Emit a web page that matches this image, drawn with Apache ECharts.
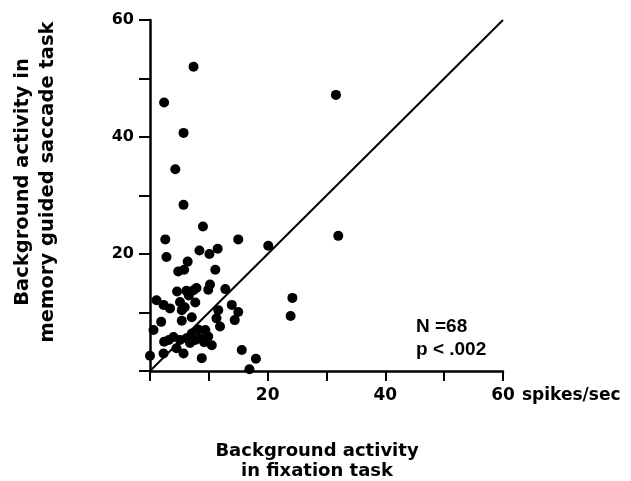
<!DOCTYPE html>
<html>
<head>
<meta charset="utf-8">
<script src="https://cdn.jsdelivr.net/npm/echarts@6/dist/echarts.min.js"></script>
<style>
html,body{margin:0;padding:0;background:#fff;}
#chart{width:631px;height:481px;}
</style>
</head>
<body>
<div id="chart"></div>
<script>
// Background activity (spikes/sec) in fixation task (x) vs memory guided saccade task (y)
const fixationRates = [
  7.4, 2.4, 5.7, 4.3, 5.7, 9.0, 31.6, 32.0, 20.1, 24.2,
  23.9, 2.6, 15.0, 2.8, 8.4, 10.1, 11.5, 6.4, 4.8, 5.8,
  11.1, 10.2, 9.9, 12.8, 4.6, 6.2, 7.4, 5.1, 5.4, 7.7,
  1.1, 2.3, 3.4, 13.9, 15.0, 14.4, 1.9, 5.4, 7.1, 11.3,
  11.9, 0.6, 2.4, 4.0, 5.1, 6.2, 7.1, 7.7, 8.5, 9.4,
  9.9, 10.5, 0.0, 2.3, 5.7, 8.8, 15.6, 18.0, 16.9, 6.6,
  5.9, 8.2, 6.8, 3.2, 9.2, 7.9, 11.6, 4.5
];
const saccadeRates = [
  52.0, 45.9, 40.7, 34.5, 28.4, 24.7, 47.2, 23.1, 21.4, 12.5,
  9.4, 22.5, 22.5, 19.5, 20.6, 20.0, 20.9, 18.7, 17.0, 17.3,
  17.3, 14.8, 13.9, 14.0, 13.6, 13.7, 13.8, 11.8, 10.4, 11.7,
  12.1, 11.3, 10.7, 11.3, 10.1, 8.7, 8.4, 8.6, 9.2, 9.0,
  7.6, 7.0, 5.0, 5.8, 5.3, 5.6, 6.4, 5.3, 5.6, 7.0,
  5.9, 4.4, 2.6, 3.0, 3.0, 2.2, 3.6, 2.1, 0.3, 12.9,
  10.9, 7.1, 4.8, 5.3, 4.9, 14.2, 10.4, 3.9
];
const identityLine = [[0, 0], [60, 60]];
const tickLabels = ['20', '40', '60'];
const unitLabel = 'spikes/sec';
const statsText = ['N =68', 'p < .002'];

const points = fixationRates.map((x, i) => [x, saccadeRates[i]]);
const axisFont = 'DejaVu Sans';

const chart = echarts.init(document.getElementById('chart'), null, {renderer: 'canvas'});
chart.setOption({
  backgroundColor: '#ffffff',
  animation: false,
  grid: {left: 150, top: 20, width: 353, height: 351, containLabel: false},
  xAxis: {
    type: 'value', min: 0, max: 60, interval: 10,
    splitLine: {show: false},
    axisLine: {show: true, onZero: false, lineStyle: {color: '#000', width: 2.5}},
    axisTick: {show: true, length: 10, lineStyle: {color: '#000', width: 2}},
    axisLabel: {
      margin: 16, color: '#000', fontFamily: axisFont, fontWeight: 'bold', fontSize: 17,
      formatter: v => tickLabels.includes(String(v)) ? String(v) : ''
    }
  },
  yAxis: {
    type: 'value', min: 0, max: 60, interval: 10,
    splitLine: {show: false},
    axisLine: {show: true, onZero: false, lineStyle: {color: '#000', width: 2.5}},
    axisTick: {show: true, length: 11, lineStyle: {color: '#000', width: 2}},
    axisLabel: {
      margin: 16, color: '#000', fontFamily: axisFont, fontWeight: 'bold', fontSize: 16,
      formatter: v => tickLabels.includes(String(v)) ? String(v) : ''
    }
  },
  series: [
    {
      type: 'line', data: identityLine, showSymbol: false, symbol: 'none',
      lineStyle: {color: '#000', width: 2}, silent: true, z: 2
    },
    {
      type: 'scatter', data: points, symbol: 'circle', symbolSize: 10,
      itemStyle: {color: '#000', opacity: 1}, z: 3
    }
  ],
  graphic: [
    {
      type: 'text', x: 522, y: 396,
      style: {text: unitLabel, fill: '#000', font: 'bold 17px "DejaVu Sans"', textVerticalAlign: 'middle'}
    },
    {
      type: 'text', x: 416, y: 327,
      style: {text: statsText[0], fill: '#000', font: 'bold 19px "Liberation Sans", Arial', textVerticalAlign: 'middle'}
    },
    {
      type: 'text', x: 416, y: 350,
      style: {text: statsText[1], fill: '#000', font: 'bold 19px "Liberation Sans", Arial', textVerticalAlign: 'middle'}
    },
    {
      type: 'text', x: 317, y: 461,
      style: {text: 'Background activity\nin fixation task', fill: '#000',
        font: 'bold 18px "DejaVu Sans"', textAlign: 'center', textVerticalAlign: 'middle', lineHeight: 20}
    },
    {
      type: 'text', x: 35, y: 182, rotation: Math.PI / 2,
      style: {text: 'Background activity in\nmemory guided saccade task', fill: '#000',
        font: 'bold 19.5px "DejaVu Sans"', textAlign: 'center', textVerticalAlign: 'middle', lineHeight: 25}
    }
  ]
});
</script>
</body>
</html>
